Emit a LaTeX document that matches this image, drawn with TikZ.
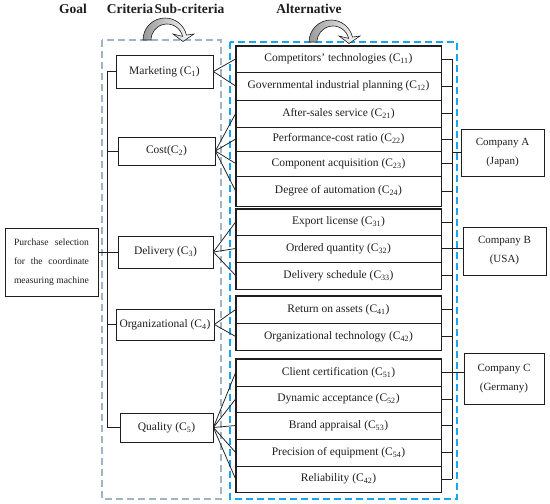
\documentclass[tikz,border=0pt]{standalone}
\usepackage{fontspec}
\setmainfont{Liberation Serif}
\usetikzlibrary{calc}
\definecolor{dashgray}{HTML}{A0B3C7}
\definecolor{dashblue}{HTML}{1AA3EE}
\definecolor{ink}{HTML}{1E1E1E}
\newcommand\sbs[1]{\textsubscript{#1}}
\begin{document}
\begin{tikzpicture}[x=1pt,y={(0,-1pt)},
  every node/.style={text=ink},
  box/.style={draw=ink,line width=0.75pt,inner sep=0pt,font=\fontsize{11.5}{13}\selectfont},
  cell/.style={box,minimum width=205pt},
  frame/.style={draw=ink,line width=1.1pt},
  conn/.style={draw=ink,line width=0.75pt},
  head/.style={font=\fontsize{13.5}{15}\selectfont\bfseries},
  comp/.style={box,align=center,font=\fontsize{11}{19}\selectfont},
  curvarr/.style={draw=ink,line width=0.6pt,left color=gray!80,right color=white}
]
\useasboundingbox (0,0) rectangle (550,504);

% dashed group boxes
\draw[dashgray,line width=1.3pt,dash pattern=on 7pt off 4pt] (102,40) rectangle (221,499);
\draw[dashblue,line width=1.6pt,dash pattern=on 7pt off 4pt] (230,42) rectangle (457,499);

% headers
\node[head] (hgoal) at (73,9) {Goal};
\node[head] (hcrit) at (130,9) {Criteria};
\node[head] (hsub) at (189.5,9) {Sub-criteria};
\node[head] (halt) at (309,9) {Alternative};

% curved arrows
\foreach \cx/\cy in {165/40,331/42}{
  \begin{scope}[shift={(\cx,\cy)}]
    \path[curvarr] (-22,0) arc[start angle=180,end angle=347,radius=22]
      -- (29,-6) -- (18,1.5) -- (8,-6) -- (17.6,-3.6)
      arc[start angle=347,end angle=180,radius=16] -- cycle;
  \end{scope}
}

% goal
\node[box,minimum width=93pt,minimum height=68pt,font=\fontsize{9.6}{19}\selectfont,align=left] (goal) at (51.5,262)
  {\hbox to 75pt{Purchase\hfill selection}\\\hbox to 75pt{for\hfill the\hfill coordinate}\\\hbox to 75pt{measuring\hfill machine}};

% criteria
\node[box,minimum width=97pt,minimum height=33pt] (mk) at (164.5,71.5) {Marketing (C\sbs{1})};
\node[box,minimum width=97pt,minimum height=28pt] (ct) at (166.5,151) {Cost(C\sbs{2})};
\node[box,minimum width=95pt,minimum height=32pt] (dl) at (165.5,252) {Delivery (C\sbs{3})};
\node[box,minimum width=98pt,minimum height=31pt] (og) at (165,324.5) {Organizational (C\sbs{4})};
\node[box,minimum width=93pt,minimum height=29pt] (ql) at (166.5,427.5) {Quality (C\sbs{5})};

% sub-criteria cells
\node[cell,minimum height=26pt] (c11) at (338.5,59) {Competitors' technologies (C\sbs{11})};
\node[cell,minimum height=28pt] (c12) at (338.5,86) {Governmental industrial planning (C\sbs{12})};
\node[cell,minimum height=27pt] (c21) at (338.5,113.5) {After-sales service (C\sbs{21})};
\node[cell,minimum height=24pt] (c22) at (338.5,139) {Performance-cost ratio (C\sbs{22})};
\node[cell,minimum height=25pt] (c23) at (338.5,163.5) {Component acquisition (C\sbs{23})};
\node[cell,minimum height=30pt] (c24) at (338.5,191) {Degree of automation (C\sbs{24})};
\node[cell,minimum height=26pt] (c31) at (338.5,222) {Export license (C\sbs{31})};
\node[cell,minimum height=27pt] (c32) at (338.5,248.5) {Ordered quantity (C\sbs{32})};
\node[cell,minimum height=27pt] (c33) at (338.5,275.5) {Delivery schedule (C\sbs{33})};
\node[cell,minimum height=27pt] (c41) at (338.5,309.5) {Return on assets (C\sbs{41})};
\node[cell,minimum height=27pt] (c42) at (338.5,336.5) {Organizational technology (C\sbs{42})};
\node[cell,minimum height=27pt] (c51) at (338.5,372.5) {Client certification (C\sbs{51})};
\node[cell,minimum height=26pt] (c52) at (338.5,399) {Dynamic acceptance (C\sbs{52})};
\node[cell,minimum height=27pt] (c53) at (338.5,425.5) {Brand appraisal (C\sbs{53})};
\node[cell,minimum height=27pt] (c54) at (338.5,452.5) {Precision of equipment (C\sbs{54})};
\node[cell,minimum height=26pt] (c55) at (338.5,479) {Reliability (C\sbs{42})};

% group frames
\draw[frame] (c11.north west) rectangle (c24.south east);
\draw[frame] (c31.north west) rectangle (c33.south east);
\draw[frame] (c41.north west) rectangle (c42.south east);
\draw[frame] (c51.north west) rectangle (c55.south east);

% companies
\node[comp,minimum width=83pt,minimum height=47pt] (ca) at (502.5,152.5) {Company A\\(Japan)};
\node[comp,minimum width=83pt,minimum height=48pt] (cb) at (504.5,251) {Company B\\(USA)};
\node[comp,minimum width=80pt,minimum height=51pt] (cc) at (504,378.5) {Company C\\(Germany)};

% trunk on the left
\coordinate (trunk) at (107,0);
\draw[conn] (mk.west -| trunk) -- (ql.west -| trunk);
\foreach \n in {mk,ct,og,ql} \draw[conn] (\n.west -| trunk) -- (\n.west);
\draw[conn] (goal.east |- dl.west) -- (dl.west);

% fans
\foreach \c in {c11,c12} \draw[conn] (mk.east) -- (\c.west);
\foreach \c in {c21,c22,c23,c24} \draw[conn] (ct.east) -- (\c.west);
\foreach \c in {c31,c32,c33} \draw[conn] (dl.east) -- (\c.west);
\foreach \c in {c41,c42} \draw[conn] (og.east) -- (\c.west);
\foreach \c in {c51,c52,c53,c54,c55} \draw[conn] (ql.east) -- (\c.west);

% bus on the right
\coordinate (bus) at (452,0);
\draw[conn] (c11.east -| bus) -- (c55.east -| bus);
\foreach \c in {c11,c12,c21,c22,c23,c24,c31,c33,c41,c42,c52,c53,c54,c55}
  \draw[conn] (\c.east) -- (\c.east -| bus);
\draw[conn] (ca.west -| bus) -- (ca.west);
\draw[conn] (c32.east) -- (c32.east -| cb.west);
\draw[conn] (c51.east) -- (c51.east -| cc.west);
\end{tikzpicture}
\end{document}
